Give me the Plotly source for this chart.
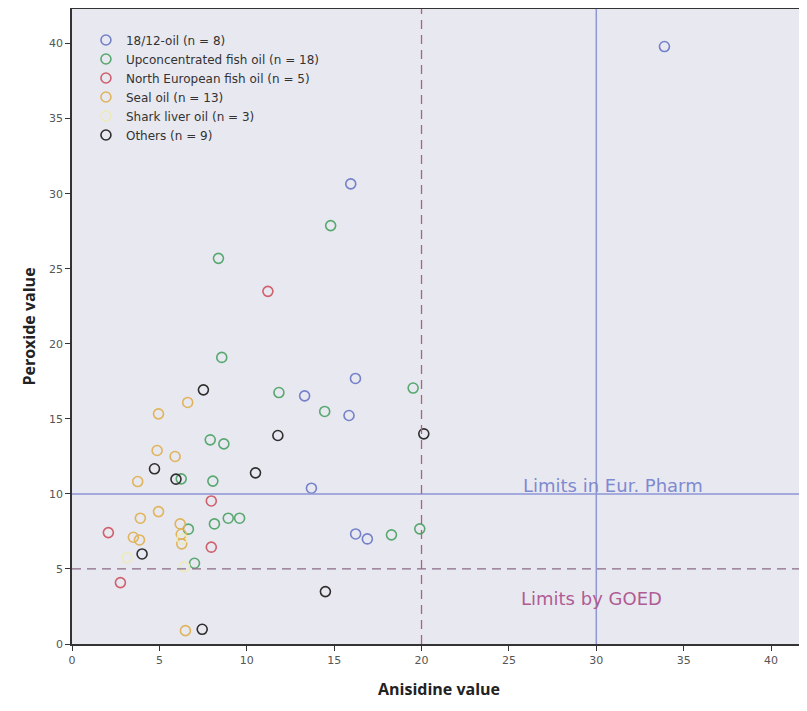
import plotly.graph_objects as go

# ---- data ----
blue_name = "18/12-oil (n = 8)"
blue_x = [33.9, 15.95, 16.22, 13.31, 15.85, 13.7, 16.23, 16.9]
blue_y = [39.8, 30.65, 17.69, 16.53, 15.22, 10.38, 7.33, 7.0]

green_name = "Upconcentrated fish oil (n = 18)"
green_x = [14.8, 8.38, 8.57, 11.84, 14.46, 7.91, 8.69, 8.06, 6.25, 8.15, 8.94, 9.59, 6.66, 19.52, 18.28, 19.9, 7.01]
green_y = [27.87, 25.69, 19.09, 16.75, 15.49, 13.6, 13.33, 10.85, 11.0, 8.0, 8.38, 8.38, 7.65, 17.05, 7.27, 7.67, 5.38]

red_name = "North European fish oil (n = 5)"
red_x = [11.21, 7.97, 2.08, 7.97, 2.77]
red_y = [23.49, 9.53, 7.42, 6.45, 4.09]

seal_name = "Seal oil (n = 13)"
seal_x = [6.62, 4.95, 4.87, 5.9, 3.76, 4.95, 3.91, 6.19, 6.25, 3.51, 3.86, 6.28, 6.49]
seal_y = [16.09, 15.33, 12.89, 12.49, 10.82, 8.82, 8.38, 8.0, 7.31, 7.11, 6.93, 6.67, 0.89]

shark_name = "Shark liver oil (n = 3)"
shark_x = [3.15, 6.44, 6.3]
shark_y = [5.75, 5.15, 7.0]

others_name = "Others (n = 9)"
others_x = [7.52, 11.78, 4.72, 10.5, 5.95, 4.01, 14.5, 7.45, 20.13]
others_y = [16.93, 13.89, 11.67, 11.4, 10.98, 6.0, 3.49, 0.98, 14.0]

x_ticks = [0, 5, 10, 15, 20, 25, 30, 35, 40]
y_ticks = [0, 5, 10, 15, 20, 25, 30, 35, 40]

eur_pharm_x, eur_pharm_y = 30, 10
goed_x, goed_y = 20, 5

groups = [
    (blue_name, blue_x, blue_y, "#7480c8"),
    (green_name, green_x, green_y, "#58a870"),
    (red_name, red_x, red_y, "#d0606c"),
    (seal_name, seal_x, seal_y, "#e0b45c"),
    (shark_name, shark_x, shark_y, "#ecebb8"),
    (others_name, others_x, others_y, "#2e2e2e"),
]

fig = go.Figure()
for name, xs, ys, col in groups:
    fig.add_trace(go.Scatter(
        x=xs, y=ys, mode="markers", name=name,
        marker=dict(symbol="circle-open", size=10, color=col, line=dict(width=1.6, color=col)),
    ))

FONT = "DejaVu Sans"
TFONT = "Open Sans"

# reference lines
fig.add_hline(y=eur_pharm_y, line=dict(color="#8e96d4", width=1.5))
fig.add_vline(x=eur_pharm_x, line=dict(color="#8e96d4", width=1.5))
fig.add_hline(y=goed_y, line=dict(color="#8a6a84", width=1.3, dash="9px,6px"))
fig.add_vline(x=goed_x, line=dict(color="#a8647e", width=1.3, dash="9px,6px"))

fig.add_annotation(x=30.96, y=10.59, text="Limits in Eur. Pharm", showarrow=False,
                   font=dict(family=FONT, size=18, color="#7f8ad0"))
fig.add_annotation(x=29.73, y=3.06, text="Limits by GOED", showarrow=False,
                   font=dict(family=FONT, size=18, color="#b05c94"))

fig.update_layout(
    width=799, height=695,
    margin=dict(l=64, r=1, t=1, b=59),
    paper_bgcolor="white",
    plot_bgcolor="#e8e8f0",
    font=dict(family=FONT, color="#444"),
    showlegend=True,
    legend=dict(x=0.019, y=0.974, xanchor="left", yanchor="top",
                bgcolor="rgba(0,0,0,0)", font=dict(family=FONT, size=12, color="#333"),
                itemwidth=30, tracegroupgap=0),
)
fig.update_xaxes(
    range=[0, 42.0], tickvals=x_ticks, ticktext=[str(v) for v in x_ticks],
    showgrid=False, zeroline=False, showline=True, linecolor="#333", linewidth=1.5,
    mirror=True, ticks="outside", ticklen=5, tickwidth=1.3, tickcolor="#333",
    tickfont=dict(family=FONT, size=11, color="#555"), automargin=False,
    title=dict(text="<b>Anisidine value</b>", font=dict(family=TFONT, size=16, color="#222"), standoff=18),
)
fig.update_yaxes(
    range=[0, 42.3], tickvals=y_ticks, ticktext=[str(v) for v in y_ticks],
    showgrid=False, zeroline=False, showline=True, linecolor="#333", linewidth=1.5,
    mirror=True, ticks="outside", ticklen=5, tickwidth=1.3, tickcolor="#333",
    tickfont=dict(family=FONT, size=11, color="#555"), automargin=False,
    title=dict(text="<b>Peroxide value</b>", font=dict(family=TFONT, size=16, color="#222"), standoff=9),
)

fig.write_html("out.html")
